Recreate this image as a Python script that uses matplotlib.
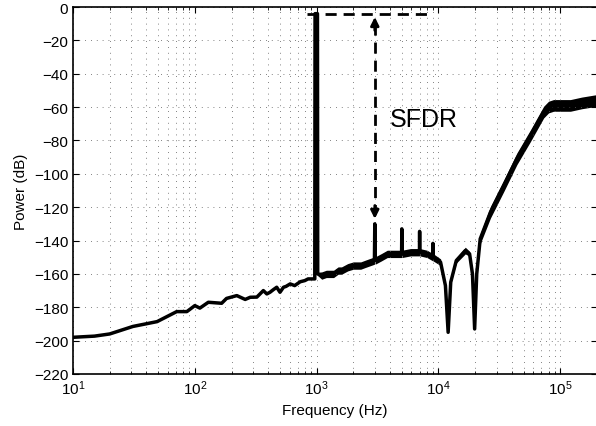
import numpy as np
import matplotlib
matplotlib.use('Agg')
import matplotlib.pyplot as plt
from matplotlib.ticker import LogLocator, MultipleLocator, NullFormatter

plt.rcParams['font.family'] = ['Liberation Sans', 'DejaVu Sans']
plt.rcParams['mathtext.fontset'] = 'custom'
plt.rcParams['mathtext.rm'] = 'Liberation Sans'
plt.rcParams['mathtext.it'] = 'Liberation Sans'

# Spectrum (Hz, dB)
freq = [10, 15, 20, 31, 49, 71, 86, 100, 110, 129, 166, 182, 221, 259, 285,
        323, 365, 390, 414, 440, 470, 500, 534, 560, 606, 660, 733, 800, 850, 965,
        970, 1015, 1020, 1100, 1200, 1377, 1500, 1600, 1800, 2000, 2300, 2500,
        2980, 3000, 3020, 3400, 3800, 4300, 4980, 5000, 5020, 5900, 6980, 7000,
        7020, 8050, 8980, 9000, 9020, 10400, 11400, 12000, 12600, 14000, 16600,
        18000, 19000, 19800, 20600, 22000, 26700, 34400, 44000, 57000, 73000,
        80000, 88000, 121000, 150000, 200000]
power = [-198, -197.3, -196, -191.5, -188.6, -182.6, -182.6, -179, -180.5, -177,
         -177.6, -174.7, -173, -175.3, -174, -173.9, -170, -172, -171, -169.5,
         -168, -171, -168, -167.5, -166, -167, -164.7, -164, -163, -163,
         -4, -4, -160, -161, -160, -160, -158, -158, -156, -155, -155, -154,
         -152, -130, -152, -150, -148, -148, -148, -133, -148, -147, -147, -134.5,
         -147, -148, -150, -141.7, -150, -153, -167, -195, -165, -152, -146,
         -148, -160, -193, -160, -139, -123, -107, -91, -77, -63,
         -60, -59, -59, -57.5, -56]
# half thickness of the noise band (dB)
spread = [0] * 30 + [0, 0, 1, 2.2, 2.2, 2.2, 2.2, 2.2, 2.2, 2.2, 2.2, 2.2,
                     2.2, 0, 2.2, 2.2, 2.2, 2.2, 2.2, 0, 2.2, 2.2, 2.2, 0,
                     2.2, 2.2, 2.2, 0, 2.2, 2, 1, 0, 1, 1.5, 2,
                     1.5, 1, 0, 1, 3, 3.5, 3.5, 3.5, 3.5, 3.5,
                     3.5, 3.5, 3.5, 3.5, 3.5]

f = np.array(freq)
p = np.array(power)
s = np.array(spread)

fig = plt.figure(figsize=(5.96, 4.27), dpi=100)
ax = fig.add_axes([73 / 596, 52 / 427, 524 / 596, 367 / 427])

ax.fill_between(f, p - s, p + s, color='black', lw=0)
ax.plot(f, p, color='black', lw=2.5)

# SFDR markers
ax.plot([840, 8600], [-4, -4], color='black', lw=2, ls=(0, (4, 2.5)))
ax.plot([3000, 3000], [-10, -124], color='black', lw=2, ls=(0, (4, 2.5)))
ax.annotate('', xy=(3000, -6), xytext=(3000, -14),
            arrowprops=dict(arrowstyle='-|>', color='black', lw=2,
                            mutation_scale=12, shrinkA=0, shrinkB=0))
ax.annotate('', xy=(3000, -127), xytext=(3000, -119),
            arrowprops=dict(arrowstyle='-|>', color='black', lw=2,
                            mutation_scale=12, shrinkA=0, shrinkB=0))
ax.text(3950, -67, 'SFDR', fontsize=18, va='center', ha='left')

ax.set_xscale('log')
ax.set_xlim(10, 2e5)
ax.set_ylim(-220, 0)
ax.yaxis.set_major_locator(MultipleLocator(20))
ax.xaxis.set_major_locator(LogLocator(base=10, numticks=10))
ax.xaxis.set_minor_locator(LogLocator(base=10, subs=np.arange(2, 10), numticks=20))
ax.xaxis.set_minor_formatter(NullFormatter())

ax.grid(True, which='major', ls=(0, (1, 6)), color='0.35', lw=0.6)
ax.grid(True, which='minor', axis='x', ls=(0, (1, 6)), color='0.35', lw=0.6)
ax.tick_params(which='both', direction='in', top=True, right=True, labelsize=11)
ax.tick_params(which='major', length=4)
ax.tick_params(which='minor', length=2)
for sp in ax.spines.values():
    sp.set_linewidth(1.2)

ax.set_xlabel('Frequency (Hz)', fontsize=11)
ax.set_ylabel('Power (dB)', fontsize=11)

fig.savefig('out.png', dpi=100)
